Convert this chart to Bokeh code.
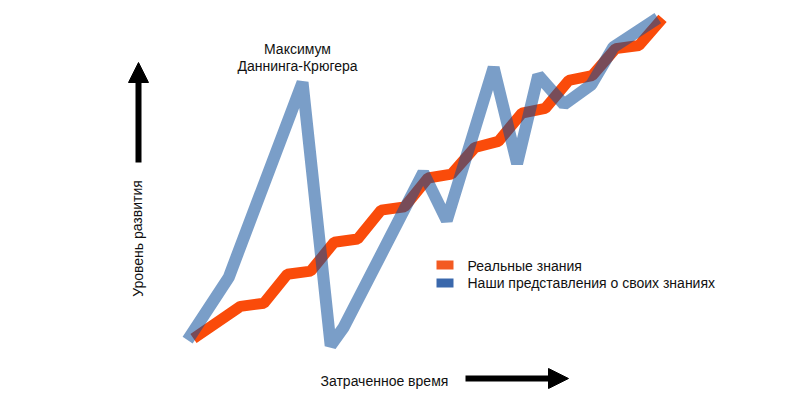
from bokeh.plotting import figure
from bokeh.models import Label, Arrow, NormalHead, BoxAnnotation, Range1d, InlineStyleSheet
from bokeh.embed import file_html
from bokeh.resources import INLINE

# ---- data (time step, level of development) ----
real_time = [0, 2, 3, 4, 5, 6, 7, 8, 9, 10, 11, 12, 13, 14, 15, 16, 17, 18, 19, 20]
real_level = [0, 10, 11, 20, 21, 30, 31, 40, 41, 50, 51.2, 59.5, 61.4, 70.2, 71.7, 80.4, 81.9, 90.3, 91.3, 99.7]

perceived_time = [-0.25, 1.5, 4.65, 5.85, 6.4, 9.8, 10.8, 12.8, 13.8, 14.7, 15.8, 16.97, 17.9, 19.8]
perceived_level = [-0.5, 19.0, 79.8, -2.2, 3.4, 51.7, 36.8, 84.4, 54.5, 82.0, 72.9, 79.1, 90.7, 99.8]

series_names = ["Реальные знания", "Наши представления о своих знаниях"]
peak_label = ["Максимум", "Даннинга-Крюгера"]
x_label = "Затраченное время"
y_label = "Уровень развития"

FONT = "Liberation Sans"

# layout helpers: page pixel -> data units
def dx(px):
    return (px - 193) / 23.45

def dy(py):
    return (338 - py) / 3.21

OFF = 0
W, H = 800, 398
p = figure(width=W, height=H, output_backend="svg", toolbar_location=None,
           x_axis_type=None, y_axis_type=None,
           x_range=Range1d(dx(OFF), dx(OFF + W)), y_range=Range1d(dy(OFF + H), dy(OFF)),
           min_border=0)
p.outline_line_color = None
p.grid.visible = False
p.background_fill_color = "white"
p.border_fill_color = "white"

css = "path[stroke-opacity] { mix-blend-mode: multiply; }"
sheets = [InlineStyleSheet(css=css)]
try:
    from bokeh.models import GlobalInlineStyleSheet
    sheets.append(GlobalInlineStyleSheet(css=css))
except Exception:
    pass
p.stylesheets = sheets

p.line(real_time, real_level, line_color="#fa4b0a", line_width=11,
       line_join="bevel", line_cap="butt")
p.line(perceived_time, perceived_level, line_color="#0d4f9b", line_alpha=0.55,
       line_width=12, line_join="bevel", line_cap="butt")

# peak annotation
p.add_layout(Label(x=dx(297), y=dy(48), text=peak_label[0], text_align="center",
                   text_baseline="middle", text_font=FONT, text_font_size="14px",
                   text_color="#111111"))
p.add_layout(Label(x=dx(297), y=dy(65), text=peak_label[1], text_align="center",
                   text_baseline="middle", text_font=FONT, text_font_size="14px",
                   text_color="#111111"))

# axis arrows
p.add_layout(Arrow(end=NormalHead(size=20, fill_color="black", line_color="black"),
                   x_start=dx(138), y_start=dy(162), x_end=dx(138), y_end=dy(62),
                   line_width=6, line_color="black"))
p.add_layout(Arrow(end=NormalHead(size=20, fill_color="black", line_color="black"),
                   x_start=dx(465), y_start=dy(378), x_end=dx(568), y_end=dy(378),
                   line_width=6, line_color="black"))

p.add_layout(Label(x=dx(320), y=dy(380), text=x_label, text_align="left",
                   text_baseline="middle", text_font=FONT, text_font_size="14px",
                   text_color="#111111"))
p.add_layout(Label(x=dx(137), y=dy(238), text=y_label, text_align="center",
                   text_baseline="middle", angle=1.5708, text_font=FONT,
                   text_font_size="14px", text_color="#111111"))

# legend
p.add_layout(BoxAnnotation(left=dx(436), right=dx(453), top=dy(260), bottom=dy(269),
                           fill_color="#f35a22", fill_alpha=1, line_color=None))
p.add_layout(BoxAnnotation(left=dx(436), right=dx(453), top=dy(278), bottom=dy(287),
                           fill_color="#3a68ac", fill_alpha=1, line_color=None))
p.add_layout(Label(x=dx(467), y=dy(265), text=series_names[0], text_align="left",
                   text_baseline="middle", text_font=FONT, text_font_size="14px",
                   text_color="#111111"))
p.add_layout(Label(x=dx(467), y=dy(282), text=series_names[1], text_align="left",
                   text_baseline="middle", text_font=FONT, text_font_size="14px",
                   text_color="#111111"))

open("out.html", "w").write(file_html(p, INLINE))
